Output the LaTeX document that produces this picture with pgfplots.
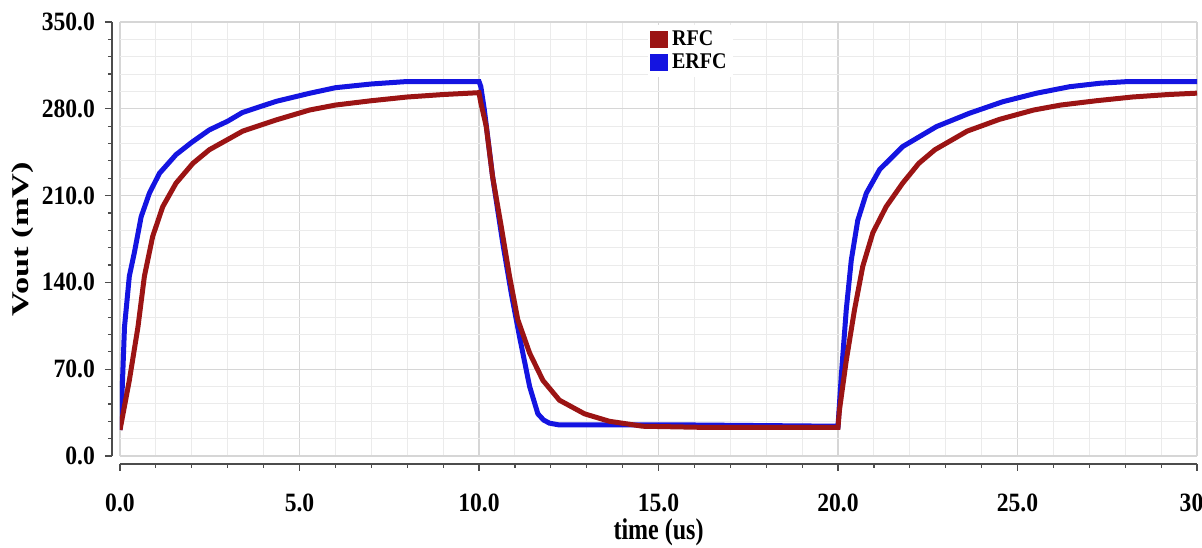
\documentclass[border=0pt]{standalone}
\usepackage{pgfplots}
\pgfplotsset{compat=1.18}
\usepackage{fontspec}
\setmainfont{Liberation Serif}
\usepackage{graphicx}

% the source picture is stretched vertically a little
\newcommand{\sq}[1]{\scalebox{1}[1.12]{#1}}

\definecolor{rfc}{RGB}{155,20,20}
\definecolor{erfc}{RGB}{20,20,225}

\pgfplotstableread{
t v
0 21
0.05 45
0.125 104
0.26 145
0.40 164
0.59 193
0.82 212
1.10 228
1.56 243
2.0 253
2.49 263
3.0 270
3.41 277
4.35 286
5.28 292.5
6 297
7 300
8 302
10.0 302
10.05 298
10.15 279
10.38 225
10.66 172
10.9 131
11.13 96
11.41 56
11.64 34
11.8 29
11.96 26.5
12.24 25
16 25
20.0 24
20.09 64
20.23 118
20.37 158
20.55 190
20.79 212
21.16 231
21.8 249.5
22.74 265.6
23.66 276.4
24.59 285.7
25.52 292.5
26.45 297.8
27.3 300.6
28.1 302
30 302
}\erfcdata

\pgfplotstableread{
t v
0 21
0.26 61
0.50 104
0.68 145
0.91 177
1.19 201
1.56 220
2.03 236
2.49 247
3.42 262
4.35 271
5.28 279
6 283
7 286.5
8 289.5
9 291.5
10.0 293
10.05 285
10.2 266
10.38 225
10.62 185
10.85 145
11.08 110
11.41 83
11.78 61
12.24 45
12.94 34
13.63 28
14.56 24
16.4 23
20.0 23
20.04 37
20.23 77
20.46 118
20.69 153
20.97 180
21.34 201
21.8 220
22.25 236
22.7 247
23.6 262
24.5 271.5
25.45 279
26.2 283
27.2 286.5
28.2 289.5
29.2 291.5
30 292.6
}\rfcdata

\begin{document}
\begin{tikzpicture}
\begin{axis}[
    scale only axis,
    width=538.5pt, height=217pt,
    xmin=0, xmax=30, ymin=0, ymax=350,
    axis lines=left,
    axis line style={-, line width=0.9pt, black!70},
    axis x line shift=4pt,
    axis y line shift=4pt,
    xtick={0,5,...,30}, minor x tick num=4,
    ytick={0,70,...,350}, minor y tick num=4,
    xticklabels={\sq{0.0},\sq{5.0},\sq{10.0},\sq{15.0},\sq{20.0},\sq{25.0},\sq{30}\hspace*{5.5pt}},
    yticklabels={\sq{0.0},\sq{70.0},\sq{140.0},\sq{210.0},\sq{280.0},\sq{350.0}},
    grid=both,
    major grid style={black!16, line width=0.6pt},
    minor grid style={black!8, line width=0.5pt},
    tick align=outside,
    major tick length=3.5pt, minor tick length=2pt,
    tick style={black!70, line width=0.6pt},
    ticklabel style={font=\bfseries\fontsize{11.8}{11.8}\selectfont},
    xticklabel style={yshift=-7.8pt},
    yticklabel style={xshift=-1.5pt},
    label style={font=\bfseries\fontsize{12}{12}\selectfont},
    xlabel={\scalebox{1}[1.25]{time (us)}},
    xlabel style={at={([yshift=-38.3pt]rel axis cs:0.5,0)}, anchor=center},
    ylabel={\scalebox{1.43}[1]{Vout (mV)}},
    ylabel style={at={([xshift=-48.5pt]rel axis cs:0,0.5)}, anchor=center},
    legend style={at={(rel axis cs:0.49,0.995)}, anchor=north west, draw=none,
        fill=white, inner sep=1pt, row sep=-1.5pt,
        font=\bfseries\fontsize{10}{10}\selectfont},
    legend cell align=left,
    reverse legend,
    legend image code/.code={\fill[#1] (0pt,-3pt) rectangle (6.5pt,3pt);},
]
\addplot[erfc, line width=2.5pt] table[x=t, y=v] {\erfcdata};
\addlegendentry{\sq{ERFC}}
\addplot[rfc, line width=2.5pt] table[x=t, y=v] {\rfcdata};
\addlegendentry{\sq{RFC}}
\coordinate (SW) at (rel axis cs:0,0);
\coordinate (NE) at (rel axis cs:1,1);
\end{axis}
% page as in the source: the last tick label runs past its right edge
\pgfresetboundingbox
\path[use as bounding box] ([xshift=-60pt,yshift=-46pt]SW)
    rectangle ([xshift=2.5pt,yshift=11pt]NE);
\end{tikzpicture}
\end{document}
